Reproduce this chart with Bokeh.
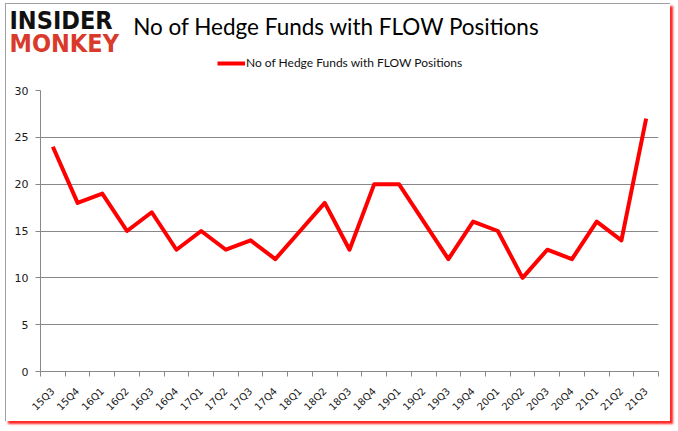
import math
from bokeh.plotting import figure
from bokeh.layouts import column
from bokeh.models import (FixedTicker, Label, Legend, LegendItem, Range1d, ColumnDataSource)
from bokeh.embed import file_html
from bokeh.resources import INLINE

quarters = ["15Q3", "15Q4", "16Q1", "16Q2", "16Q3", "16Q4", "17Q1", "17Q2", "17Q3",
            "17Q4", "18Q1", "18Q2", "18Q3", "18Q4", "19Q1", "19Q2", "19Q3", "19Q4",
            "20Q1", "20Q2", "20Q3", "20Q4", "21Q1", "21Q2", "21Q3"]
funds = [24, 18, 19, 15, 17, 13, 15, 13, 14, 12, 15, 18, 13, 20, 20, 16, 12, 16,
         15, 10, 13, 12, 16, 14, 27]
y_ticks = [0, 5, 10, 15, 20, 25, 30]
title_text = "No of Hedge Funds with FLOW Positions"
series_name = "No of Hedge Funds with FLOW Positions"

RED = "#ff0000"
W = 664

xs = list(range(1, len(quarters) + 1))
src = ColumnDataSource(dict(x=xs, y=funds))

# ---------------- header (logo, title, legend) ----------------
head = figure(width=W, height=80, output_backend="svg", toolbar_location=None,
              x_range=Range1d(0, W), y_range=Range1d(80, 0),
              min_border=0, min_border_left=0, min_border_right=0,
              min_border_top=0, min_border_bottom=0,
              x_axis_type=None, y_axis_type=None)
head.frame_align = False
head.outline_line_color = None
head.grid.visible = False
head.background_fill_color = "white"
head.border_fill_color = "white"

head.add_layout(Label(x=3, y=16, text="INSIDER", text_font="DejaVu Sans Condensed",
                      text_font_style="bold", text_font_size="25px", text_color="#111111",
                      text_baseline="middle"))
head.add_layout(Label(x=3, y=38.5, text="MONKEY", text_font="DejaVu Sans Condensed",
                      text_font_style="bold", text_font_size="25px", text_color="#d93a2b",
                      text_baseline="middle"))
head.add_layout(Label(x=330, y=22, text=title_text, text_font="Lato",
                      text_font_size="22.5px", text_color="#000000",
                      text_align="center", text_baseline="middle"))

# legend sample: the series drawn on an off-screen range of the header, only for its legend glyph
head.extra_x_ranges = {"off": Range1d(1000, 2000)}
sample = head.line("x", "y", source=src, x_range_name="off", line_color=RED, line_width=4)
legend = Legend(items=[LegendItem(label=series_name, renderers=[sample])],
                location=(211, 14), orientation="horizontal",
                label_text_font="Lato", label_text_font_size="12px",
                label_text_color="#111111", glyph_width=28, glyph_height=14,
                label_standoff=1, padding=0, margin=0, spacing=0,
                border_line_color=None, background_fill_alpha=0)
head.add_layout(legend, "center")

# ---------------- main chart ----------------
p = figure(width=W, height=337, output_backend="svg", toolbar_location=None,
           min_border_left=34, min_border_right=12, min_border_top=6, min_border_bottom=50,
           x_range=Range1d(0.5, len(quarters) + 0.5), y_range=Range1d(0, 30))
p.frame_align = False
p.outline_line_color = None
p.background_fill_color = "white"
p.border_fill_color = "white"

p.line("x", "y", source=src, line_color=RED, line_width=4, line_join="round")

p.xaxis.ticker = FixedTicker(ticks=xs, minor_ticks=[i + 0.5 for i in range(0, len(quarters) + 1)])
p.xaxis.major_label_overrides = {i + 1: q for i, q in enumerate(quarters)}
p.xaxis.major_label_orientation = math.pi / 4
p.xaxis.major_tick_line_color = None
p.xaxis.major_tick_out = 0
p.xaxis.major_tick_in = 0
p.xaxis.minor_tick_line_color = "#888888"
p.xaxis.minor_tick_out = 5
p.xaxis.minor_tick_in = 0
p.xaxis.axis_line_color = "#888888"
p.xaxis.major_label_text_font = "DejaVu Sans"
p.xaxis.major_label_text_font_size = "10px"
p.xaxis.major_label_text_color = "#1a1a1a"
p.xaxis.major_label_standoff = 13

p.yaxis.ticker = FixedTicker(ticks=y_ticks)
p.yaxis.major_tick_line_color = "#888888"
p.yaxis.major_tick_out = 5
p.yaxis.major_tick_in = 0
p.yaxis.minor_tick_line_color = None
p.yaxis.axis_line_color = "#888888"
p.yaxis.major_label_text_font = "DejaVu Sans"
p.yaxis.major_label_text_font_size = "11px"
p.yaxis.major_label_text_color = "#1a1a1a"
p.yaxis.major_label_standoff = 7

p.xgrid.grid_line_color = None
p.ygrid.grid_line_color = "#888888"
p.ygrid.grid_line_width = 1

layout = column(head, p, spacing=0, margin=(3, 0, 0, 5),
                styles={"border-top": "1px solid #a0a0a0", "border-left": "1px solid #a0a0a0",
                        "box-shadow": "3px 3px 2px rgba(255,0,0,0.85)",
                        "background-color": "white"})

open("out.html", "w").write(file_html(layout, INLINE))
